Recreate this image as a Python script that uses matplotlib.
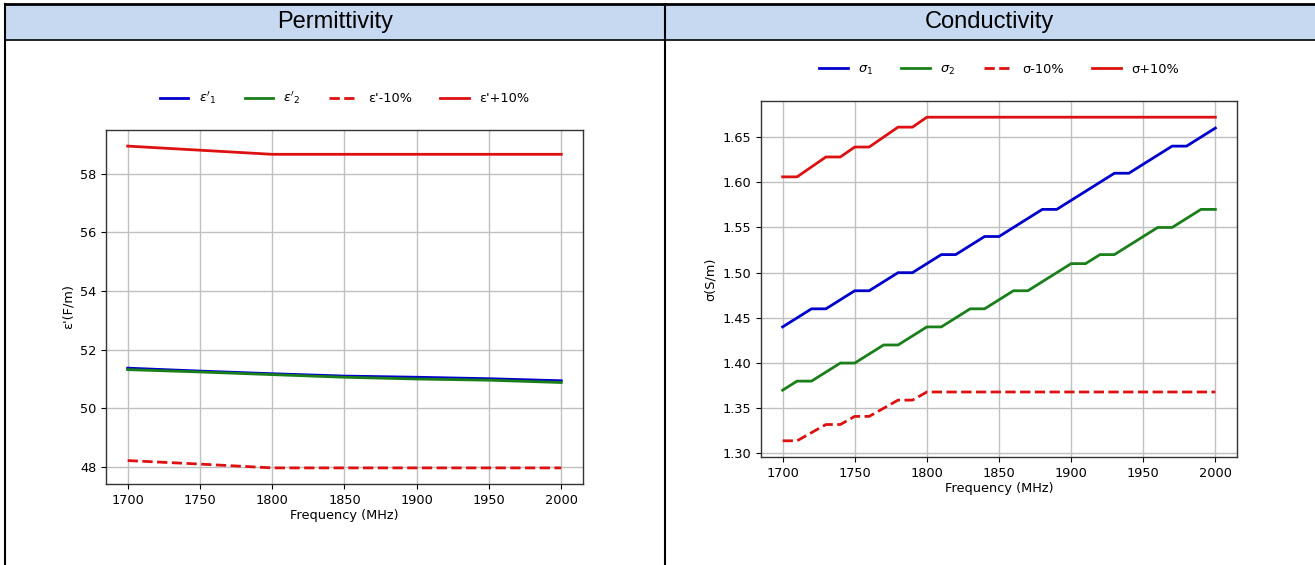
import matplotlib
matplotlib.use('Agg')
from matplotlib import pyplot as plt
from matplotlib.lines import Line2D
from matplotlib.patches import Rectangle

# permittivity, 50 MHz steps
freq_eps = [1700, 1750, 1800, 1850, 1900, 1950, 2000]
eps_1 = [51.37, 51.27, 51.18, 51.10, 51.06, 51.01, 50.94]
eps_2 = [51.32, 51.24, 51.15, 51.06, 51.00, 50.96, 50.88]
eps_minus = [48.22, 48.10, 47.97, 47.97, 47.97, 47.97, 47.97]
eps_plus = [58.94, 58.80, 58.66, 58.66, 58.66, 58.66, 58.66]

# conductivity, 10 MHz steps
freq_sig = [1700, 1710, 1720, 1730, 1740, 1750, 1760, 1770, 1780, 1790, 1800,
            1810, 1820, 1830, 1840, 1850, 1860, 1870, 1880, 1890, 1900,
            1910, 1920, 1930, 1940, 1950, 1960, 1970, 1980, 1990, 2000]
sig_1 = [1.44, 1.45, 1.46, 1.46, 1.47, 1.48, 1.48, 1.49, 1.50, 1.50, 1.51,
         1.52, 1.52, 1.53, 1.54, 1.54, 1.55, 1.56, 1.57, 1.57, 1.58,
         1.59, 1.60, 1.61, 1.61, 1.62, 1.63, 1.64, 1.64, 1.65, 1.66]
sig_2 = [1.37, 1.38, 1.38, 1.39, 1.40, 1.40, 1.41, 1.42, 1.42, 1.43, 1.44,
         1.44, 1.45, 1.46, 1.46, 1.47, 1.48, 1.48, 1.49, 1.50, 1.51,
         1.51, 1.52, 1.52, 1.53, 1.54, 1.55, 1.55, 1.56, 1.57, 1.57]
sig_minus = [1.314, 1.314, 1.323, 1.332, 1.332, 1.341, 1.341, 1.350, 1.359, 1.359, 1.368,
             1.368, 1.368, 1.368, 1.368, 1.368, 1.368, 1.368, 1.368, 1.368, 1.368,
             1.368, 1.368, 1.368, 1.368, 1.368, 1.368, 1.368, 1.368, 1.368, 1.368]
sig_plus = [1.606, 1.606, 1.617, 1.628, 1.628, 1.639, 1.639, 1.650, 1.661, 1.661, 1.672,
            1.672, 1.672, 1.672, 1.672, 1.672, 1.672, 1.672, 1.672, 1.672, 1.672,
            1.672, 1.672, 1.672, 1.672, 1.672, 1.672, 1.672, 1.672, 1.672, 1.672]

headers = ['Permittivity', 'Conductivity']

plt.rcParams['font.size'] = 9.3
plt.rcParams['axes.linewidth'] = 1.0
plt.rcParams['axes.edgecolor'] = '#333333'

fig = plt.figure(figsize=(13.15, 5.65), dpi=100)

# table frame around the two plots (no right border in the body)
fig.add_artist(Rectangle((0.0038, 0.9292), 0.9962, 0.0637,
                         transform=fig.transFigure, facecolor='#c6d9f1', edgecolor='none'))
border = dict(transform=fig.transFigure, color='black')
fig.add_artist(Line2D([0.0038, 1.0], [0.9929, 0.9929], lw=2, **border))
fig.add_artist(Line2D([0.0038, 1.0], [0.9292, 0.9292], lw=1.2, **border))
fig.add_artist(Line2D([0.0038, 0.0038], [0.0, 0.9929], lw=1.5, **border))
fig.add_artist(Line2D([0.5057, 0.5057], [0.0, 0.9929], lw=1.5, **border))
fig.text(0.2548, 0.961, headers[0], ha='center', va='center', fontsize=17, family='Liberation Sans')
fig.text(0.7522, 0.961, headers[1], ha='center', va='center', fontsize=17, family='Liberation Sans')

lw = 2.0

ax1 = fig.add_axes([0.0806, 0.1434, 0.3627, 0.6265])
ax1.plot(freq_eps, eps_1, color='#0000cc', lw=lw, label=r"$\varepsilon'_1$")
ax1.plot(freq_eps, eps_2, color='#1a7f1a', lw=lw, label=r"$\varepsilon'_2$")
ax1.plot(freq_eps, eps_minus, color='#dd1111', lw=lw, ls='--', label="ε'-10%")
ax1.plot(freq_eps, eps_plus, color='#dd1111', lw=lw, label="ε'+10%")
ax1.set_xticks([1700, 1750, 1800, 1850, 1900, 1950, 2000])
ax1.set_yticks([48, 50, 52, 54, 56, 58])
ax1.grid(True, color='#c0c0c0', lw=1)
ax1.set_xlabel('Frequency (MHz)', labelpad=2)
ax1.set_ylabel("ε'(F/m)")
ax1.legend(loc='center', bbox_to_anchor=(0.5, 1.09), ncol=4, frameon=False,
           handlelength=2.2, columnspacing=2.2)

ax2 = fig.add_axes([0.5787, 0.1912, 0.362, 0.630])
ax2.plot(freq_sig, sig_1, color='#0000cc', lw=lw, label=r'$\sigma_1$')
ax2.plot(freq_sig, sig_2, color='#1a7f1a', lw=lw, label=r'$\sigma_2$')
ax2.plot(freq_sig, sig_minus, color='#dd1111', lw=lw, ls='--', label='σ-10%')
ax2.plot(freq_sig, sig_plus, color='#dd1111', lw=lw, label='σ+10%')
ax2.set_xticks([1700, 1750, 1800, 1850, 1900, 1950, 2000])
ax2.set_yticks([1.30, 1.35, 1.40, 1.45, 1.50, 1.55, 1.60, 1.65])
ax2.grid(True, color='#c0c0c0', lw=1)
ax2.set_xlabel('Frequency (MHz)', labelpad=2)
ax2.set_ylabel('σ(S/m)')
ax2.legend(loc='center', bbox_to_anchor=(0.5, 1.087), ncol=4, frameon=False,
           handlelength=2.2, columnspacing=2.2)

fig.savefig('out.png', dpi=100)
